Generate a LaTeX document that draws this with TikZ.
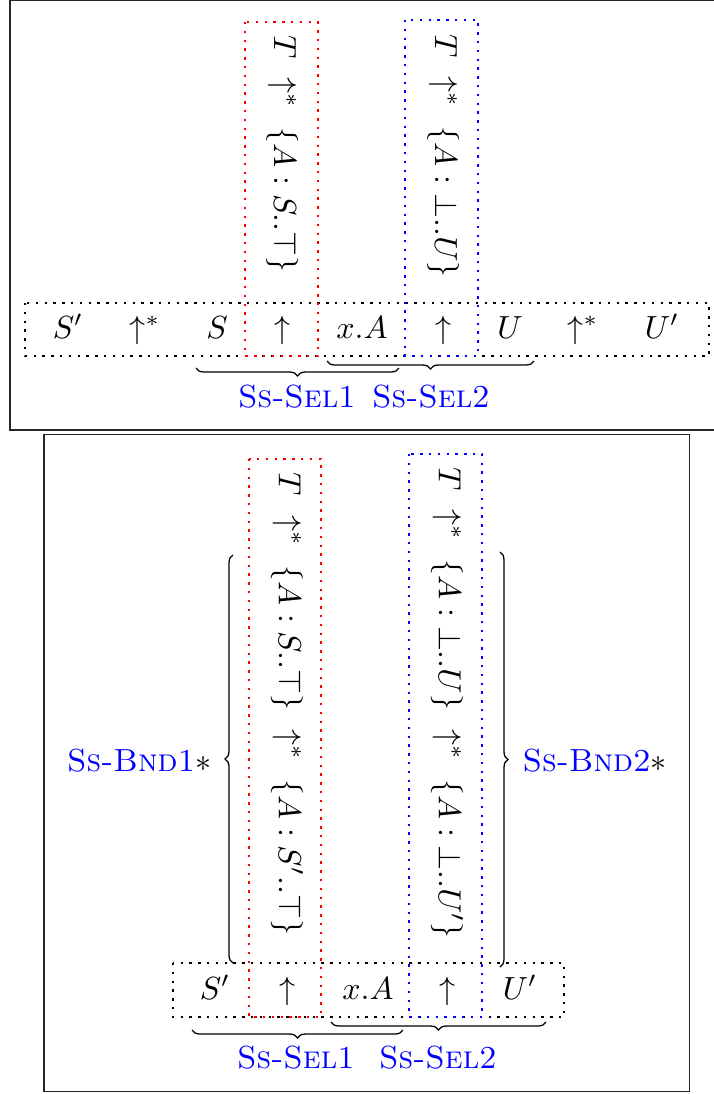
\documentclass[tikz,border=0pt]{standalone}
\usetikzlibrary{decorations.pathreplacing}
\newcommand\sepgap{\hspace{6pt}}
\begin{document}
\begin{tikzpicture}[x=0.3125pt,y=-0.3125pt,
  frame/.style={draw=black!85, line width=0.5pt},
  rowbox/.style={draw=black, dotted, line width=0.75pt},
  redbox/.style={draw=red, dotted, line width=0.75pt},
  bluebox/.style={draw=blue, dotted, line width=0.75pt},
  cell/.style={anchor=base, inner sep=0pt},
  vtext/.style={rotate=-90, inner sep=0pt},
  brc/.style={decorate, decoration={brace, amplitude=2.5pt}, line width=0.4pt},
  rulename/.style={inner sep=0pt, text=blue, font=\scshape}
]
\clip (0,0) rectangle (714,1094);
\useasboundingbox (0,0) rectangle (714,1094);

% ---------- upper panel ----------
\draw[frame] (10,0.5) rectangle (730,430);

\draw[rowbox] (25,303) rectangle (709,356);
\draw[redbox] (245,22) rectangle (318,356);
\draw[bluebox] (405,20) rectangle (478,356);

\node[vtext] (ured) at (282,154) {$T$\sepgap$\uparrow^{*}$\sepgap$\{A : S..\top\}$};
\node[vtext] (ublue) at (443,156) {$T$\sepgap$\uparrow^{*}$\sepgap$\{A : \bot..U\}$};

\node[cell] (u1) at (68,338) {$S'$};
\node[cell] (u2) at (145,338) {$\uparrow^{*}$};
\node[cell] (u3) at (217,338) {$S$};
\node[cell] (u4) at (282,338) {$\uparrow$};
\node[cell] (u5) at (362,338) {$x.A$};
\node[cell] (u6) at (443,338) {$\uparrow$};
\node[cell] (u7) at (510,338) {$U$};
\node[cell] (u8) at (583,338) {$\uparrow^{*}$};
\node[cell] (u9) at (662,338) {$U'$};

\coordinate (ub1a) at (196,368);
\coordinate (ub1b) at (399,368);
\coordinate (ub2a) at (327,361);
\coordinate (ub2b) at (534,361);
\draw[brc] (ub1b) -- (ub1a);
\draw[brc] (ub2b) -- (ub2a);
\node[rulename, anchor=base] (usel1) at (297,407) {Ss-Sel1};
\node[rulename, anchor=base] (usel2) at (431,407) {Ss-Sel2};

% ---------- lower panel ----------
\draw[frame] (44,434.5) rectangle (689.5,1091.5);

\draw[rowbox] (173,963) rectangle (564,1017);
\draw[redbox] (249,459) rectangle (321,1017);
\draw[bluebox] (409,454) rectangle (482,1017);

\node[vtext] (lred) at (287,704) {$T$\sepgap$\uparrow^{*}$\sepgap$\{A : S..\top\}$\sepgap$\uparrow^{*}$\sepgap$\{A : S'..\top\}$};
\node[vtext] (lblue) at (447,703) {$T$\sepgap$\uparrow^{*}$\sepgap$\{A : \bot..U\}$\sepgap$\uparrow^{*}$\sepgap$\{A : \bot..U'\}$};

\node[cell] (l1) at (215,999) {$S'$};
\node[cell] (l2) at (287,999) {$\uparrow$};
\node[cell] (l3) at (368,999) {$x.A$};
\node[cell] (l4) at (447,999) {$\uparrow$};
\node[cell] (l5) at (520,999) {$U'$};

\coordinate (lb1a) at (192,1030);
\coordinate (lb1b) at (403,1030);
\coordinate (lb2a) at (331,1022);
\coordinate (lb2b) at (546,1022);
\draw[brc] (lb1b) -- (lb1a);
\draw[brc] (lb2b) -- (lb2a);
\node[rulename, anchor=base] (lsel1) at (296,1068) {Ss-Sel1};
\node[rulename, anchor=base] (lsel2) at (438,1068) {Ss-Sel2};

\coordinate (bl1) at (233,963);
\coordinate (bl2) at (233,555);
\coordinate (br1) at (500,552);
\coordinate (br2) at (500,967);
\draw[brc] (bl1) -- (bl2);
\draw[brc] (br1) -- (br2);
\node[inner sep=0pt, anchor=base east] (bnd1) at (212,771) {\textcolor{blue}{\textsc{Ss-Bnd1}}$*$};
\node[inner sep=0pt, anchor=base west] (bnd2) at (522,771) {\textcolor{blue}{\textsc{Ss-Bnd2}}$*$};
\end{tikzpicture}
\end{document}
